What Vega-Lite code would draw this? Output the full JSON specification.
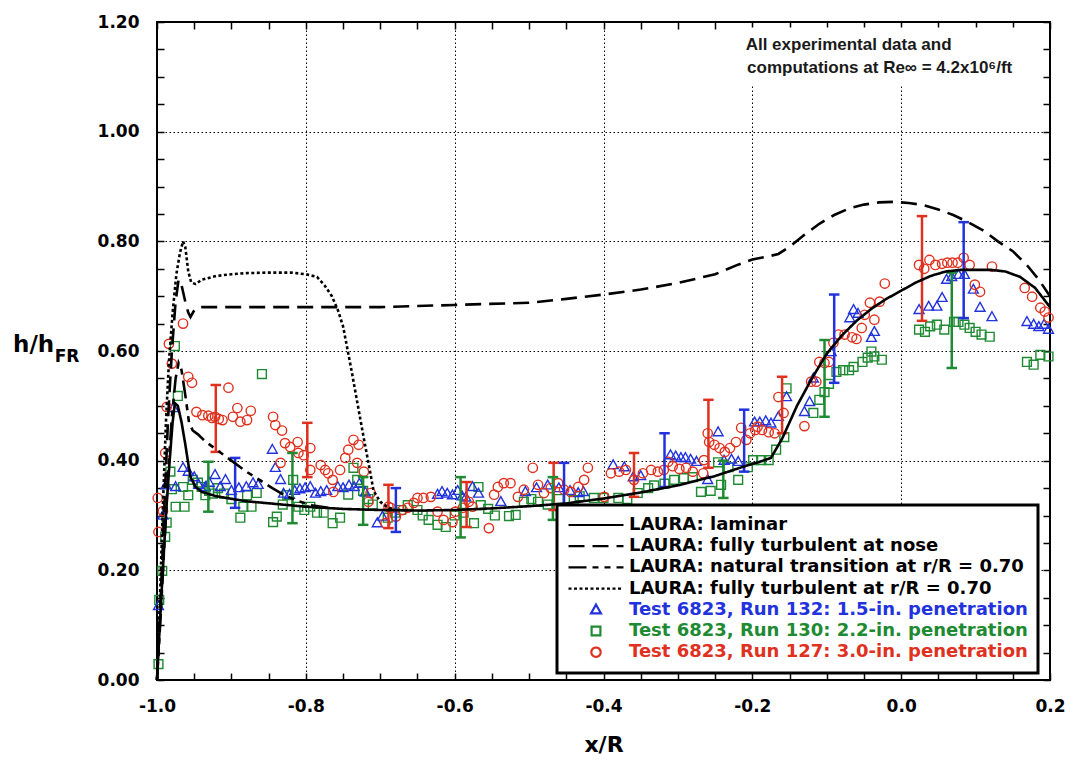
{
  "$schema": "https://vega.github.io/schema/vega-lite/v6.json",
  "width": 893,
  "height": 658,
  "autosize": "none",
  "padding": {"left": 157, "top": 22, "right": 21, "bottom": 82},
  "background": "white",
  "config": {
    "view": {"stroke": "black", "strokeWidth": 2},
    "legend": {
      "orient": "none", "legendX": 400, "legendY": 483, "direction": "vertical",
      "fillColor": "white", "strokeColor": "black", "padding": 10,
      "labelFont": "DejaVu Sans", "labelFontSize": 18, "labelFontWeight": "bold", "labelLimit": 0,
      "labelOffset": 4, "symbolSize": 3025, "symbolStrokeWidth": 2.2, "symbolFillColor": "transparent",
      "clipHeight": 20, "rowPadding": 1.2
    }
  },
  "datasets": {
    "lines": [
      {"s":"lam","x":-1.0,"y":0.0},{"s":"lam","x":-0.997,"y":0.08},{"s":"lam","x":-0.993,"y":0.18},{"s":"lam","x":-0.988,"y":0.30},{"s":"lam","x":-0.983,"y":0.40},{"s":"lam","x":-0.979,"y":0.47},{"s":"lam","x":-0.976,"y":0.505},{"s":"lam","x":-0.972,"y":0.50},{"s":"lam","x":-0.967,"y":0.47},{"s":"lam","x":-0.962,"y":0.43},{"s":"lam","x":-0.958,"y":0.395},{"s":"lam","x":-0.955,"y":0.37},{"s":"lam","x":-0.948,"y":0.352},{"s":"lam","x":-0.94,"y":0.343},{"s":"lam","x":-0.92,"y":0.335},{"s":"lam","x":-0.88,"y":0.326},{"s":"lam","x":-0.84,"y":0.321},{"s":"lam","x":-0.80,"y":0.316},{"s":"lam","x":-0.75,"y":0.312},{"s":"lam","x":-0.70,"y":0.31},{"s":"lam","x":-0.65,"y":0.309},{"s":"lam","x":-0.60,"y":0.31},{"s":"lam","x":-0.55,"y":0.313},{"s":"lam","x":-0.50,"y":0.317},{"s":"lam","x":-0.45,"y":0.322},{"s":"lam","x":-0.40,"y":0.331},{"s":"lam","x":-0.35,"y":0.342},{"s":"lam","x":-0.30,"y":0.355},{"s":"lam","x":-0.25,"y":0.372},{"s":"lam","x":-0.21,"y":0.39},{"s":"lam","x":-0.19,"y":0.398},{"s":"lam","x":-0.175,"y":0.405},{"s":"lam","x":-0.16,"y":0.44},{"s":"lam","x":-0.14,"y":0.50},{"s":"lam","x":-0.12,"y":0.55},{"s":"lam","x":-0.10,"y":0.595},{"s":"lam","x":-0.08,"y":0.628},{"s":"lam","x":-0.06,"y":0.655},{"s":"lam","x":-0.04,"y":0.677},{"s":"lam","x":-0.02,"y":0.695},{"s":"lam","x":0.0,"y":0.71},{"s":"lam","x":0.02,"y":0.725},{"s":"lam","x":0.04,"y":0.737},{"s":"lam","x":0.06,"y":0.745},{"s":"lam","x":0.08,"y":0.748},{"s":"lam","x":0.10,"y":0.748},{"s":"lam","x":0.12,"y":0.748},{"s":"lam","x":0.14,"y":0.745},{"s":"lam","x":0.16,"y":0.735},{"s":"lam","x":0.18,"y":0.715},{"s":"lam","x":0.20,"y":0.68},
      {"s":"ftn","x":-1.0,"y":0.0},{"s":"ftn","x":-0.995,"y":0.15},{"s":"ftn","x":-0.99,"y":0.32},{"s":"ftn","x":-0.985,"y":0.48},{"s":"ftn","x":-0.98,"y":0.60},{"s":"ftn","x":-0.975,"y":0.69},{"s":"ftn","x":-0.971,"y":0.73},{"s":"ftn","x":-0.967,"y":0.72},{"s":"ftn","x":-0.962,"y":0.69},{"s":"ftn","x":-0.958,"y":0.67},{"s":"ftn","x":-0.955,"y":0.662},{"s":"ftn","x":-0.951,"y":0.672},{"s":"ftn","x":-0.946,"y":0.679},{"s":"ftn","x":-0.94,"y":0.68},{"s":"ftn","x":-0.9,"y":0.68},{"s":"ftn","x":-0.8,"y":0.68},{"s":"ftn","x":-0.7,"y":0.68},{"s":"ftn","x":-0.6,"y":0.684},{"s":"ftn","x":-0.5,"y":0.688},{"s":"ftn","x":-0.45,"y":0.695},{"s":"ftn","x":-0.4,"y":0.703},{"s":"ftn","x":-0.35,"y":0.712},{"s":"ftn","x":-0.3,"y":0.724},{"s":"ftn","x":-0.25,"y":0.74},{"s":"ftn","x":-0.22,"y":0.757},{"s":"ftn","x":-0.2,"y":0.767},{"s":"ftn","x":-0.18,"y":0.772},{"s":"ftn","x":-0.165,"y":0.777},{"s":"ftn","x":-0.15,"y":0.79},{"s":"ftn","x":-0.13,"y":0.812},{"s":"ftn","x":-0.11,"y":0.832},{"s":"ftn","x":-0.09,"y":0.848},{"s":"ftn","x":-0.07,"y":0.86},{"s":"ftn","x":-0.05,"y":0.867},{"s":"ftn","x":-0.03,"y":0.871},{"s":"ftn","x":-0.01,"y":0.872},{"s":"ftn","x":0.01,"y":0.87},{"s":"ftn","x":0.03,"y":0.866},{"s":"ftn","x":0.05,"y":0.858},{"s":"ftn","x":0.07,"y":0.848},{"s":"ftn","x":0.09,"y":0.835},{"s":"ftn","x":0.11,"y":0.82},{"s":"ftn","x":0.13,"y":0.80},{"s":"ftn","x":0.15,"y":0.782},{"s":"ftn","x":0.17,"y":0.755},{"s":"ftn","x":0.185,"y":0.73},{"s":"ftn","x":0.2,"y":0.70},
      {"s":"nat","x":-1.0,"y":0.0},{"s":"nat","x":-0.995,"y":0.12},{"s":"nat","x":-0.99,"y":0.25},{"s":"nat","x":-0.985,"y":0.38},{"s":"nat","x":-0.98,"y":0.48},{"s":"nat","x":-0.975,"y":0.55},{"s":"nat","x":-0.971,"y":0.578},{"s":"nat","x":-0.967,"y":0.565},{"s":"nat","x":-0.962,"y":0.52},{"s":"nat","x":-0.957,"y":0.47},{"s":"nat","x":-0.952,"y":0.455},{"s":"nat","x":-0.945,"y":0.448},{"s":"nat","x":-0.935,"y":0.435},{"s":"nat","x":-0.92,"y":0.42},{"s":"nat","x":-0.90,"y":0.40},{"s":"nat","x":-0.88,"y":0.38},{"s":"nat","x":-0.86,"y":0.363},{"s":"nat","x":-0.845,"y":0.35},{"s":"nat","x":-0.83,"y":0.338},{"s":"nat","x":-0.81,"y":0.326},{"s":"nat","x":-0.79,"y":0.318},{"s":"nat","x":-0.77,"y":0.314},
      {"s":"ft70","x":-1.0,"y":0.0},{"s":"ft70","x":-0.996,"y":0.15},{"s":"ft70","x":-0.992,"y":0.32},{"s":"ft70","x":-0.988,"y":0.47},{"s":"ft70","x":-0.984,"y":0.58},{"s":"ft70","x":-0.979,"y":0.67},{"s":"ft70","x":-0.974,"y":0.74},{"s":"ft70","x":-0.969,"y":0.78},{"s":"ft70","x":-0.965,"y":0.80},{"s":"ft70","x":-0.962,"y":0.79},{"s":"ft70","x":-0.958,"y":0.745},{"s":"ft70","x":-0.954,"y":0.725},{"s":"ft70","x":-0.948,"y":0.722},{"s":"ft70","x":-0.94,"y":0.73},{"s":"ft70","x":-0.92,"y":0.737},{"s":"ft70","x":-0.90,"y":0.74},{"s":"ft70","x":-0.88,"y":0.742},{"s":"ft70","x":-0.85,"y":0.743},{"s":"ft70","x":-0.82,"y":0.743},{"s":"ft70","x":-0.80,"y":0.74},{"s":"ft70","x":-0.785,"y":0.735},{"s":"ft70","x":-0.775,"y":0.72},{"s":"ft70","x":-0.765,"y":0.70},{"s":"ft70","x":-0.757,"y":0.675},{"s":"ft70","x":-0.75,"y":0.645},{"s":"ft70","x":-0.745,"y":0.61},{"s":"ft70","x":-0.738,"y":0.56},{"s":"ft70","x":-0.73,"y":0.50},{"s":"ft70","x":-0.722,"y":0.44},{"s":"ft70","x":-0.715,"y":0.39},{"s":"ft70","x":-0.709,"y":0.345},{"s":"ft70","x":-0.70,"y":0.325},{"s":"ft70","x":-0.69,"y":0.315},{"s":"ft70","x":-0.68,"y":0.31}
    ],
    "points": [
      {"s":"r130","x":-0.998,"y":0.029},{"s":"r130","x":-0.997,"y":0.146},{"s":"r130","x":-0.993,"y":0.199},{"s":"r130","x":-0.989,"y":0.261},{"s":"r130","x":-0.987,"y":0.287},{"s":"r130","x":-0.98,"y":0.348},{"s":"r130","x":-0.982,"y":0.38},{"s":"r130","x":-0.976,"y":0.609},{"s":"r130","x":-0.972,"y":0.518},{"s":"r130","x":-0.975,"y":0.316},{"s":"r130","x":-0.965,"y":0.352},{"s":"r130","x":-0.958,"y":0.337},{"s":"r130","x":-0.963,"y":0.316},{"s":"r130","x":-0.952,"y":0.365},{"s":"r130","x":-0.945,"y":0.36},{"s":"r130","x":-0.94,"y":0.352},{"s":"r130","x":-0.935,"y":0.337},{"s":"r130","x":-0.93,"y":0.345},{"s":"r130","x":-0.925,"y":0.34},{"s":"r130","x":-0.918,"y":0.35},{"s":"r130","x":-0.91,"y":0.34},{"s":"r130","x":-0.9,"y":0.33},{"s":"r130","x":-0.888,"y":0.296},{"s":"r130","x":-0.884,"y":0.316},{"s":"r130","x":-0.879,"y":0.337},{"s":"r130","x":-0.873,"y":0.316},{"s":"r130","x":-0.866,"y":0.341},{"s":"r130","x":-0.859,"y":0.558},{"s":"r130","x":-0.844,"y":0.288},{"s":"r130","x":-0.839,"y":0.298},{"s":"r130","x":-0.831,"y":0.32},{"s":"r130","x":-0.825,"y":0.337},{"s":"r130","x":-0.817,"y":0.365},{"s":"r130","x":-0.81,"y":0.316},{"s":"r130","x":-0.802,"y":0.31},{"s":"r130","x":-0.794,"y":0.316},{"s":"r130","x":-0.785,"y":0.305},{"s":"r130","x":-0.776,"y":0.305},{"s":"r130","x":-0.764,"y":0.286},{"s":"r130","x":-0.754,"y":0.296},{"s":"r130","x":-0.743,"y":0.338},{"s":"r130","x":-0.736,"y":0.387},{"s":"r130","x":-0.731,"y":0.365},{"s":"r130","x":-0.723,"y":0.345},{"s":"r130","x":-0.716,"y":0.33},{"s":"r130","x":-0.71,"y":0.32},{"s":"r130","x":-0.69,"y":0.296},{"s":"r130","x":-0.68,"y":0.305},{"s":"r130","x":-0.672,"y":0.31},{"s":"r130","x":-0.663,"y":0.319},{"s":"r130","x":-0.65,"y":0.31},{"s":"r130","x":-0.643,"y":0.3},{"s":"r130","x":-0.635,"y":0.292},{"s":"r130","x":-0.623,"y":0.283},{"s":"r130","x":-0.612,"y":0.279},{"s":"r130","x":-0.6,"y":0.3},{"s":"r130","x":-0.588,"y":0.305},{"s":"r130","x":-0.574,"y":0.286},{"s":"r130","x":-0.568,"y":0.352},{"s":"r130","x":-0.565,"y":0.319},{"s":"r130","x":-0.555,"y":0.312},{"s":"r130","x":-0.546,"y":0.3},{"s":"r130","x":-0.527,"y":0.299},{"s":"r130","x":-0.518,"y":0.301},{"s":"r130","x":-0.507,"y":0.325},{"s":"r130","x":-0.497,"y":0.33},{"s":"r130","x":-0.488,"y":0.325},{"s":"r130","x":-0.475,"y":0.32},{"s":"r130","x":-0.46,"y":0.33},{"s":"r130","x":-0.44,"y":0.328},{"s":"r130","x":-0.432,"y":0.335},{"s":"r130","x":-0.413,"y":0.332},{"s":"r130","x":-0.4,"y":0.332},{"s":"r130","x":-0.38,"y":0.332},{"s":"r130","x":-0.368,"y":0.33},{"s":"r130","x":-0.354,"y":0.341},{"s":"r130","x":-0.34,"y":0.35},{"s":"r130","x":-0.332,"y":0.355},{"s":"r130","x":-0.318,"y":0.358},{"s":"r130","x":-0.305,"y":0.365},{"s":"r130","x":-0.292,"y":0.368},{"s":"r130","x":-0.28,"y":0.37},{"s":"r130","x":-0.269,"y":0.343},{"s":"r130","x":-0.256,"y":0.345},{"s":"r130","x":-0.242,"y":0.356},{"s":"r130","x":-0.246,"y":0.397},{"s":"r130","x":-0.232,"y":0.388},{"s":"r130","x":-0.219,"y":0.365},{"s":"r130","x":-0.206,"y":0.388},{"s":"r130","x":-0.199,"y":0.401},{"s":"r130","x":-0.188,"y":0.401},{"s":"r130","x":-0.178,"y":0.401},{"s":"r130","x":-0.168,"y":0.42},{"s":"r130","x":-0.157,"y":0.443},{"s":"r130","x":-0.154,"y":0.532},{"s":"r130","x":-0.118,"y":0.487},{"s":"r130","x":-0.11,"y":0.511},{"s":"r130","x":-0.103,"y":0.525},{"s":"r130","x":-0.097,"y":0.54},{"s":"r130","x":-0.087,"y":0.562},{"s":"r130","x":-0.078,"y":0.565},{"s":"r130","x":-0.07,"y":0.565},{"s":"r130","x":-0.064,"y":0.571},{"s":"r130","x":-0.052,"y":0.58},{"s":"r130","x":-0.045,"y":0.588},{"s":"r130","x":-0.04,"y":0.599},{"s":"r130","x":-0.036,"y":0.59},{"s":"r130","x":-0.026,"y":0.584},{"s":"r130","x":0.024,"y":0.639},{"s":"r130","x":0.032,"y":0.635},{"s":"r130","x":0.039,"y":0.645},{"s":"r130","x":0.048,"y":0.648},{"s":"r130","x":0.058,"y":0.639},{"s":"r130","x":0.071,"y":0.653},{"s":"r130","x":0.077,"y":0.653},{"s":"r130","x":0.085,"y":0.648},{"s":"r130","x":0.092,"y":0.642},{"s":"r130","x":0.1,"y":0.635},{"s":"r130","x":0.108,"y":0.63},{"s":"r130","x":0.119,"y":0.626},{"s":"r130","x":0.169,"y":0.58},{"s":"r130","x":0.178,"y":0.575},{"s":"r130","x":0.187,"y":0.593},{"s":"r130","x":0.198,"y":0.59},
      {"s":"r132","x":-0.998,"y":0.135},{"s":"r132","x":-0.992,"y":0.30},{"s":"r132","x":-0.988,"y":0.355},{"s":"r132","x":-0.978,"y":0.496},{"s":"r132","x":-0.975,"y":0.352},{"s":"r132","x":-0.965,"y":0.387},{"s":"r132","x":-0.958,"y":0.38},{"s":"r132","x":-0.95,"y":0.37},{"s":"r132","x":-0.944,"y":0.356},{"s":"r132","x":-0.935,"y":0.352},{"s":"r132","x":-0.93,"y":0.36},{"s":"r132","x":-0.922,"y":0.374},{"s":"r132","x":-0.915,"y":0.352},{"s":"r132","x":-0.908,"y":0.365},{"s":"r132","x":-0.9,"y":0.345},{"s":"r132","x":-0.89,"y":0.35},{"s":"r132","x":-0.88,"y":0.352},{"s":"r132","x":-0.871,"y":0.359},{"s":"r132","x":-0.864,"y":0.356},{"s":"r132","x":-0.845,"y":0.42},{"s":"r132","x":-0.841,"y":0.387},{"s":"r132","x":-0.834,"y":0.365},{"s":"r132","x":-0.83,"y":0.34},{"s":"r132","x":-0.822,"y":0.338},{"s":"r132","x":-0.815,"y":0.345},{"s":"r132","x":-0.808,"y":0.348},{"s":"r132","x":-0.801,"y":0.35},{"s":"r132","x":-0.794,"y":0.352},{"s":"r132","x":-0.787,"y":0.34},{"s":"r132","x":-0.78,"y":0.343},{"s":"r132","x":-0.772,"y":0.345},{"s":"r132","x":-0.757,"y":0.352},{"s":"r132","x":-0.75,"y":0.35},{"s":"r132","x":-0.742,"y":0.355},{"s":"r132","x":-0.735,"y":0.352},{"s":"r132","x":-0.728,"y":0.358},{"s":"r132","x":-0.72,"y":0.342},{"s":"r132","x":-0.704,"y":0.286},{"s":"r132","x":-0.697,"y":0.298},{"s":"r132","x":-0.623,"y":0.338},{"s":"r132","x":-0.617,"y":0.343},{"s":"r132","x":-0.61,"y":0.34},{"s":"r132","x":-0.603,"y":0.337},{"s":"r132","x":-0.596,"y":0.345},{"s":"r132","x":-0.59,"y":0.335},{"s":"r132","x":-0.585,"y":0.333},{"s":"r132","x":-0.576,"y":0.352},{"s":"r132","x":-0.568,"y":0.34},{"s":"r132","x":-0.538,"y":0.325},{"s":"r132","x":-0.505,"y":0.343},{"s":"r132","x":-0.49,"y":0.35},{"s":"r132","x":-0.475,"y":0.355},{"s":"r132","x":-0.46,"y":0.35},{"s":"r132","x":-0.445,"y":0.345},{"s":"r132","x":-0.434,"y":0.341},{"s":"r132","x":-0.427,"y":0.343},{"s":"r132","x":-0.387,"y":0.392},{"s":"r132","x":-0.372,"y":0.388},{"s":"r132","x":-0.36,"y":0.37},{"s":"r132","x":-0.35,"y":0.372},{"s":"r132","x":-0.31,"y":0.41},{"s":"r132","x":-0.303,"y":0.408},{"s":"r132","x":-0.296,"y":0.405},{"s":"r132","x":-0.29,"y":0.405},{"s":"r132","x":-0.283,"y":0.402},{"s":"r132","x":-0.275,"y":0.398},{"s":"r132","x":-0.26,"y":0.365},{"s":"r132","x":-0.246,"y":0.452},{"s":"r132","x":-0.238,"y":0.40},{"s":"r132","x":-0.228,"y":0.402},{"s":"r132","x":-0.219,"y":0.398},{"s":"r132","x":-0.197,"y":0.47},{"s":"r132","x":-0.19,"y":0.47},{"s":"r132","x":-0.182,"y":0.472},{"s":"r132","x":-0.175,"y":0.468},{"s":"r132","x":-0.165,"y":0.48},{"s":"r132","x":-0.154,"y":0.516},{"s":"r132","x":-0.13,"y":0.489},{"s":"r132","x":-0.123,"y":0.507},{"s":"r132","x":-0.118,"y":0.55},{"s":"r132","x":-0.094,"y":0.598},{"s":"r132","x":-0.069,"y":0.66},{"s":"r132","x":-0.064,"y":0.675},{"s":"r132","x":-0.058,"y":0.668},{"s":"r132","x":-0.04,"y":0.624},{"s":"r132","x":-0.036,"y":0.635},{"s":"r132","x":0.024,"y":0.675},{"s":"r132","x":0.037,"y":0.681},{"s":"r132","x":0.048,"y":0.681},{"s":"r132","x":0.055,"y":0.697},{"s":"r132","x":0.061,"y":0.73},{"s":"r132","x":0.068,"y":0.735},{"s":"r132","x":0.077,"y":0.739},{"s":"r132","x":0.085,"y":0.739},{"s":"r132","x":0.097,"y":0.712},{"s":"r132","x":0.106,"y":0.679},{"s":"r132","x":0.122,"y":0.662},{"s":"r132","x":0.169,"y":0.653},{"s":"r132","x":0.178,"y":0.648},{"s":"r132","x":0.185,"y":0.644},{"s":"r132","x":0.192,"y":0.648},{"s":"r132","x":0.198,"y":0.639},
      {"s":"r127","x":-0.999,"y":0.332},{"s":"r127","x":-0.992,"y":0.308},{"s":"r127","x":-0.998,"y":0.27},{"s":"r127","x":-0.989,"y":0.414},{"s":"r127","x":-0.987,"y":0.498},{"s":"r127","x":-0.984,"y":0.613},{"s":"r127","x":-0.98,"y":0.577},{"s":"r127","x":-0.965,"y":0.65},{"s":"r127","x":-0.958,"y":0.553},{"s":"r127","x":-0.953,"y":0.542},{"s":"r127","x":-0.947,"y":0.489},{"s":"r127","x":-0.939,"y":0.483},{"s":"r127","x":-0.931,"y":0.482},{"s":"r127","x":-0.926,"y":0.478},{"s":"r127","x":-0.922,"y":0.48},{"s":"r127","x":-0.917,"y":0.476},{"s":"r127","x":-0.912,"y":0.474},{"s":"r127","x":-0.904,"y":0.533},{"s":"r127","x":-0.898,"y":0.48},{"s":"r127","x":-0.892,"y":0.496},{"s":"r127","x":-0.888,"y":0.471},{"s":"r127","x":-0.879,"y":0.474},{"s":"r127","x":-0.874,"y":0.491},{"s":"r127","x":-0.844,"y":0.48},{"s":"r127","x":-0.841,"y":0.465},{"s":"r127","x":-0.832,"y":0.455},{"s":"r127","x":-0.828,"y":0.432},{"s":"r127","x":-0.821,"y":0.425},{"s":"r127","x":-0.811,"y":0.434},{"s":"r127","x":-0.81,"y":0.414},{"s":"r127","x":-0.803,"y":0.41},{"s":"r127","x":-0.794,"y":0.423},{"s":"r127","x":-0.834,"y":0.396},{"s":"r127","x":-0.794,"y":0.383},{"s":"r127","x":-0.78,"y":0.392},{"s":"r127","x":-0.774,"y":0.383},{"s":"r127","x":-0.77,"y":0.377},{"s":"r127","x":-0.764,"y":0.365},{"s":"r127","x":-0.754,"y":0.383},{"s":"r127","x":-0.747,"y":0.405},{"s":"r127","x":-0.743,"y":0.42},{"s":"r127","x":-0.736,"y":0.438},{"s":"r127","x":-0.729,"y":0.429},{"s":"r127","x":-0.731,"y":0.396},{"s":"r127","x":-0.722,"y":0.38},{"s":"r127","x":-0.763,"y":0.343},{"s":"r127","x":-0.713,"y":0.341},{"s":"r127","x":-0.716,"y":0.325},{"s":"r127","x":-0.689,"y":0.316},{"s":"r127","x":-0.693,"y":0.286},{"s":"r127","x":-0.686,"y":0.314},{"s":"r127","x":-0.679,"y":0.298},{"s":"r127","x":-0.67,"y":0.31},{"s":"r127","x":-0.663,"y":0.314},{"s":"r127","x":-0.655,"y":0.323},{"s":"r127","x":-0.65,"y":0.332},{"s":"r127","x":-0.642,"y":0.332},{"s":"r127","x":-0.632,"y":0.334},{"s":"r127","x":-0.623,"y":0.307},{"s":"r127","x":-0.615,"y":0.292},{"s":"r127","x":-0.603,"y":0.288},{"s":"r127","x":-0.599,"y":0.307},{"s":"r127","x":-0.589,"y":0.314},{"s":"r127","x":-0.581,"y":0.325},{"s":"r127","x":-0.576,"y":0.316},{"s":"r127","x":-0.554,"y":0.277},{"s":"r127","x":-0.547,"y":0.338},{"s":"r127","x":-0.542,"y":0.352},{"s":"r127","x":-0.534,"y":0.359},{"s":"r127","x":-0.525,"y":0.359},{"s":"r127","x":-0.515,"y":0.334},{"s":"r127","x":-0.507,"y":0.347},{"s":"r127","x":-0.495,"y":0.387},{"s":"r127","x":-0.488,"y":0.356},{"s":"r127","x":-0.48,"y":0.341},{"s":"r127","x":-0.471,"y":0.35},{"s":"r127","x":-0.461,"y":0.359},{"s":"r127","x":-0.453,"y":0.347},{"s":"r127","x":-0.444,"y":0.343},{"s":"r127","x":-0.434,"y":0.352},{"s":"r127","x":-0.426,"y":0.365},{"s":"r127","x":-0.421,"y":0.387},{"s":"r127","x":-0.399,"y":0.334},{"s":"r127","x":-0.39,"y":0.377},{"s":"r127","x":-0.379,"y":0.38},{"s":"r127","x":-0.37,"y":0.383},{"s":"r127","x":-0.359,"y":0.365},{"s":"r127","x":-0.347,"y":0.377},{"s":"r127","x":-0.336,"y":0.383},{"s":"r127","x":-0.327,"y":0.38},{"s":"r127","x":-0.319,"y":0.383},{"s":"r127","x":-0.313,"y":0.398},{"s":"r127","x":-0.307,"y":0.39},{"s":"r127","x":-0.298,"y":0.385},{"s":"r127","x":-0.289,"y":0.387},{"s":"r127","x":-0.28,"y":0.38},{"s":"r127","x":-0.266,"y":0.377},{"s":"r127","x":-0.265,"y":0.401},{"s":"r127","x":-0.258,"y":0.434},{"s":"r127","x":-0.26,"y":0.45},{"s":"r127","x":-0.251,"y":0.429},{"s":"r127","x":-0.244,"y":0.423},{"s":"r127","x":-0.237,"y":0.416},{"s":"r127","x":-0.23,"y":0.423},{"s":"r127","x":-0.222,"y":0.434},{"s":"r127","x":-0.215,"y":0.46},{"s":"r127","x":-0.208,"y":0.438},{"s":"r127","x":-0.203,"y":0.45},{"s":"r127","x":-0.196,"y":0.456},{"s":"r127","x":-0.193,"y":0.462},{"s":"r127","x":-0.187,"y":0.456},{"s":"r127","x":-0.178,"y":0.452},{"s":"r127","x":-0.17,"y":0.45},{"s":"r127","x":-0.165,"y":0.516},{"s":"r127","x":-0.158,"y":0.487},{"s":"r127","x":-0.13,"y":0.463},{"s":"r127","x":-0.121,"y":0.544},{"s":"r127","x":-0.114,"y":0.544},{"s":"r127","x":-0.11,"y":0.58},{"s":"r127","x":-0.103,"y":0.578},{"s":"r127","x":-0.097,"y":0.58},{"s":"r127","x":-0.091,"y":0.615},{"s":"r127","x":-0.084,"y":0.63},{"s":"r127","x":-0.076,"y":0.63},{"s":"r127","x":-0.066,"y":0.625},{"s":"r127","x":-0.06,"y":0.622},{"s":"r127","x":-0.053,"y":0.642},{"s":"r127","x":-0.049,"y":0.666},{"s":"r127","x":-0.042,"y":0.688},{"s":"r127","x":-0.036,"y":0.657},{"s":"r127","x":-0.029,"y":0.69},{"s":"r127","x":-0.022,"y":0.723},{"s":"r127","x":0.024,"y":0.757},{"s":"r127","x":0.031,"y":0.75},{"s":"r127","x":0.038,"y":0.766},{"s":"r127","x":0.046,"y":0.757},{"s":"r127","x":0.055,"y":0.759},{"s":"r127","x":0.062,"y":0.761},{"s":"r127","x":0.069,"y":0.761},{"s":"r127","x":0.076,"y":0.761},{"s":"r127","x":0.084,"y":0.77},{"s":"r127","x":0.092,"y":0.757},{"s":"r127","x":0.099,"y":0.721},{"s":"r127","x":0.106,"y":0.708},{"s":"r127","x":0.122,"y":0.754},{"s":"r127","x":0.166,"y":0.715},{"s":"r127","x":0.176,"y":0.699},{"s":"r127","x":0.187,"y":0.679},{"s":"r127","x":0.193,"y":0.672},{"s":"r127","x":0.198,"y":0.661}
    ],
    "bars": [
      {"s":"r127","x":-0.921,"lo":0.416,"hi":0.538},{"s":"r127","x":-0.798,"lo":0.37,"hi":0.469},{"s":"r127","x":-0.689,"lo":0.277,"hi":0.356},{"s":"r127","x":-0.584,"lo":0.279,"hi":0.361},{"s":"r127","x":-0.467,"lo":0.31,"hi":0.396},{"s":"r127","x":-0.359,"lo":0.334,"hi":0.414},{"s":"r127","x":-0.259,"lo":0.387,"hi":0.511},{"s":"r127","x":-0.16,"lo":0.45,"hi":0.553},{"s":"r127","x":0.028,"lo":0.655,"hi":0.846},
      {"s":"r132","x":-0.895,"lo":0.314,"hi":0.405},{"s":"r132","x":-0.679,"lo":0.27,"hi":0.35},{"s":"r132","x":-0.453,"lo":0.32,"hi":0.396},{"s":"r132","x":-0.318,"lo":0.352,"hi":0.45},{"s":"r132","x":-0.211,"lo":0.38,"hi":0.493},{"s":"r132","x":-0.09,"lo":0.542,"hi":0.703},{"s":"r132","x":0.084,"lo":0.66,"hi":0.835},
      {"s":"r130","x":-0.931,"lo":0.307,"hi":0.398},{"s":"r130","x":-0.818,"lo":0.286,"hi":0.414},{"s":"r130","x":-0.723,"lo":0.283,"hi":0.37},{"s":"r130","x":-0.592,"lo":0.26,"hi":0.37},{"s":"r130","x":-0.468,"lo":0.292,"hi":0.37},{"s":"r130","x":-0.239,"lo":0.332,"hi":0.40},{"s":"r130","x":-0.103,"lo":0.48,"hi":0.62},{"s":"r130","x":0.068,"lo":0.569,"hi":0.743}
    ]
  },
  "resolve": {"axis": {"x": "independent", "y": "independent"}},
  "layer": [
    {
      "data": {"name": "points"},
      "mark": {"type": "point", "filled": false, "size": 3025, "strokeWidth": 1.4, "opacity": 1},
      "encoding": {
        "x": {"field": "x", "type": "quantitative", "scale": {"domain": [-1, 0.2], "nice": false, "zero": false},
          "axis": {"orient": "top", "offset": -7, "values": [-1,-0.95,-0.9,-0.85,-0.8,-0.75,-0.7,-0.65,-0.6,-0.55,-0.5,-0.45,-0.4,-0.35,-0.3,-0.25,-0.2,-0.15,-0.1,-0.05,0,0.05,0.1,0.15,0.2], "labels": false, "ticks": true, "tickSize": 7, "tickColor": "black", "tickWidth": 1.5, "domain": false, "grid": false, "title": null}},
        "y": {"field": "y", "type": "quantitative", "scale": {"domain": [0, 1.2], "nice": false, "zero": false},
          "axis": {"orient": "right", "offset": -7, "values": [0,0.05,0.1,0.15,0.2,0.25,0.3,0.35,0.4,0.45,0.5,0.55,0.6,0.65,0.7,0.75,0.8,0.85,0.9,0.95,1,1.05,1.1,1.15,1.2], "labels": false, "ticks": true, "tickSize": 7, "tickColor": "black", "tickWidth": 1.5, "domain": false, "grid": false, "title": null}},
        "color": {"field": "s", "type": "nominal",
          "scale": {"domain": ["lam","ftn","nat","ft70","r132","r130","r127"], "range": ["black","black","black","black","#2233dd","#1e8a32","#e0301e"]},
          "legend": {"title": null, "symbolSize": 3025, "symbolFillColor": "transparent",
            "labelExpr": "datum.value=='lam' ? 'LAURA: laminar' : datum.value=='ftn' ? 'LAURA: fully turbulent at nose' : datum.value=='nat' ? 'LAURA: natural transition at r/R = 0.70' : datum.value=='ft70' ? 'LAURA: fully turbulent at r/R = 0.70' : datum.value=='r132' ? 'Test 6823, Run 132: 1.5-in. penetration' : datum.value=='r130' ? 'Test 6823, Run 130: 2.2-in. penetration' : 'Test 6823, Run 127: 3.0-in. penetration'",
            "encode": {
              "labels": {"update": {"fill": {"signal": "datum.value=='r132' ? '#2233dd' : datum.value=='r130' ? '#1e8a32' : datum.value=='r127' ? '#e0301e' : 'black'"}}},
              "legend": {"update": {"strokeWidth": {"value": 3}}}
            }}},
        "shape": {"field": "s", "type": "nominal",
          "scale": {"domain": ["lam","ftn","nat","ft70","r132","r130","r127"], "range": ["stroke","stroke","stroke","stroke","M0,-0.19L0.18,0.13L-0.18,0.13Z","M-0.16,-0.16H0.16V0.16H-0.16Z","M0.17,0A0.17,0.17,0,1,1,-0.17,0A0.17,0.17,0,1,1,0.17,0Z"]},
          "legend": {"title": null, "symbolSize": 3025, "symbolFillColor": "transparent"}}
      }
    },
    {
      "data": {"name": "bars"},
      "mark": {"type": "rule", "strokeWidth": 2.5},
      "encoding": {
        "x": {"field": "x", "type": "quantitative", "axis": null},
        "y": {"field": "lo", "type": "quantitative", "axis": null},
        "y2": {"field": "hi"},
        "color": {"field": "s", "type": "nominal", "legend": null}
      }
    },
    {
      "data": {"name": "bars"},
      "mark": {"type": "tick", "orient": "horizontal", "size": 9, "thickness": 1, "filled": false, "strokeWidth": 1.5, "opacity": 1},
      "encoding": {
        "x": {"field": "x", "type": "quantitative", "axis": null},
        "y": {"field": "hi", "type": "quantitative", "axis": null},
        "color": {"field": "s", "type": "nominal", "legend": null}
      }
    },
    {
      "data": {"name": "bars"},
      "mark": {"type": "tick", "orient": "horizontal", "size": 9, "thickness": 1, "filled": false, "strokeWidth": 1.5, "opacity": 1},
      "encoding": {
        "x": {"field": "x", "type": "quantitative", "axis": null},
        "y": {"field": "lo", "type": "quantitative", "axis": null},
        "color": {"field": "s", "type": "nominal", "legend": null}
      }
    },
    {
      "data": {"name": "lines"},
      "mark": {"type": "line", "strokeWidth": 2.6},
      "encoding": {
        "x": {"field": "x", "type": "quantitative", "scale": {"domain": [-1, 0.2], "nice": false, "zero": false},
          "axis": {"orient": "bottom", "offset": -7, "values": [-1,-0.95,-0.9,-0.85,-0.8,-0.75,-0.7,-0.65,-0.6,-0.55,-0.5,-0.45,-0.4,-0.35,-0.3,-0.25,-0.2,-0.15,-0.1,-0.05,0,0.05,0.1,0.15,0.2],
            "labelExpr": "abs(datum.value*5-round(datum.value*5)) < 0.01 ? (datum.value < -0.001 ? '-' : '') + format(abs(datum.value), '.1f') : ''",
            "tickSize": 7, "tickColor": "black", "tickWidth": 1.5, "domain": false,
            "grid": true, "gridColor": "black", "gridDash": [1.5, 2.5], "gridWidth": 1,
            "gridOpacity": {"condition": {"test": "abs(datum.value*5-round(datum.value*5)) < 0.01", "value": 1}, "value": 0},
            "labelFont": "DejaVu Sans", "labelFontWeight": "bold", "labelFontSize": 17, "labelColor": "black",
            "labelPadding": 18, "labelFlush": false, "labelOverlap": false,
            "title": "x/R", "titleFont": "DejaVu Sans", "titleFontSize": 22, "titleFontWeight": "bold", "titleColor": "black", "titlePadding": 20}},
        "y": {"field": "y", "type": "quantitative", "scale": {"domain": [0, 1.2], "nice": false, "zero": false},
          "axis": {"orient": "left", "offset": -7, "values": [0,0.05,0.1,0.15,0.2,0.25,0.3,0.35,0.4,0.45,0.5,0.55,0.6,0.65,0.7,0.75,0.8,0.85,0.9,0.95,1,1.05,1.1,1.15,1.2],
            "labelExpr": "abs(datum.value*5-round(datum.value*5)) < 0.01 ? format(datum.value, '.2f') : ''",
            "tickSize": 7, "tickColor": "black", "tickWidth": 1.5, "domain": false,
            "grid": true, "gridColor": "black", "gridDash": [1.5, 2.5], "gridWidth": 1,
            "gridOpacity": {"condition": {"test": "abs(datum.value*5-round(datum.value*5)) < 0.01", "value": 1}, "value": 0},
            "labelFont": "DejaVu Sans", "labelFontWeight": "bold", "labelFontSize": 17, "labelColor": "black",
            "labelPadding": 18, "labelFlush": false, "labelOverlap": false, "title": null}},
        "color": {"field": "s", "type": "nominal",
          "legend": {"title": null, "symbolSize": 3025, "symbolFillColor": "transparent",
            "labelExpr": "datum.value=='lam' ? 'LAURA: laminar' : datum.value=='ftn' ? 'LAURA: fully turbulent at nose' : datum.value=='nat' ? 'LAURA: natural transition at r/R = 0.70' : datum.value=='ft70' ? 'LAURA: fully turbulent at r/R = 0.70' : datum.value=='r132' ? 'Test 6823, Run 132: 1.5-in. penetration' : datum.value=='r130' ? 'Test 6823, Run 130: 2.2-in. penetration' : 'Test 6823, Run 127: 3.0-in. penetration'",
            "encode": {
              "labels": {"update": {"fill": {"signal": "datum.value=='r132' ? '#2233dd' : datum.value=='r130' ? '#1e8a32' : datum.value=='r127' ? '#e0301e' : 'black'"}}},
              "legend": {"update": {"strokeWidth": {"value": 3}}}
            }}},
        "strokeDash": {"field": "s", "type": "nominal",
          "scale": {"domain": ["lam","ftn","nat","ft70","r132","r130","r127"], "range": [[1,0],[16,8],[18,6,6,6,6,6],[3,2.5],[1,0],[1,0],[1,0]]},
          "legend": {"title": null, "symbolSize": 3025, "symbolFillColor": "transparent"}}
      }
    },
    {
      "data": {"values": [{}]},
      "mark": {"type": "rect", "color": "white"},
      "encoding": {
        "x": {"datum": -0.215, "type": "quantitative", "axis": null},
        "x2": {"datum": 0.185},
        "y": {"datum": 1.086, "type": "quantitative", "axis": null},
        "y2": {"datum": 1.19}
      }
    },
    {
      "data": {"values": [{}]},
      "mark": {"type": "text", "align": "left", "baseline": "alphabetic", "font": "Liberation Sans", "fontWeight": "bold", "fontSize": 17, "color": "#1a1a1a"},
      "encoding": {
        "x": {"datum": -0.209, "type": "quantitative", "axis": null},
        "y": {"datum": 1.1496, "type": "quantitative", "axis": null},
        "text": {"value": "All experimental data and"}
      }
    },
    {
      "data": {"values": [{}]},
      "mark": {"type": "text", "align": "left", "baseline": "alphabetic", "font": "Liberation Sans", "fontWeight": "bold", "fontSize": 17, "color": "#1a1a1a"},
      "encoding": {
        "x": {"datum": -0.207, "type": "quantitative", "axis": null},
        "y": {"datum": 1.1077, "type": "quantitative", "axis": null},
        "text": {"value": "computations at Re∞ = 4.2x10⁶/ft"}
      }
    },
    {
      "data": {"values": [{}]},
      "mark": {"type": "text", "align": "left", "baseline": "alphabetic", "font": "DejaVu Sans", "fontWeight": "bold", "fontSize": 23, "color": "black"},
      "encoding": {
        "x": {"datum": -1.1935, "type": "quantitative", "axis": null},
        "y": {"datum": 0.5985, "type": "quantitative", "axis": null},
        "text": {"value": "h/h"}
      }
    },
    {
      "data": {"values": [{}]},
      "mark": {"type": "text", "align": "left", "baseline": "alphabetic", "font": "DejaVu Sans", "fontWeight": "bold", "fontSize": 17, "color": "black"},
      "encoding": {
        "x": {"datum": -1.1374, "type": "quantitative", "axis": null},
        "y": {"datum": 0.58, "type": "quantitative", "axis": null},
        "text": {"value": "FR"}
      }
    }
  ]
}
